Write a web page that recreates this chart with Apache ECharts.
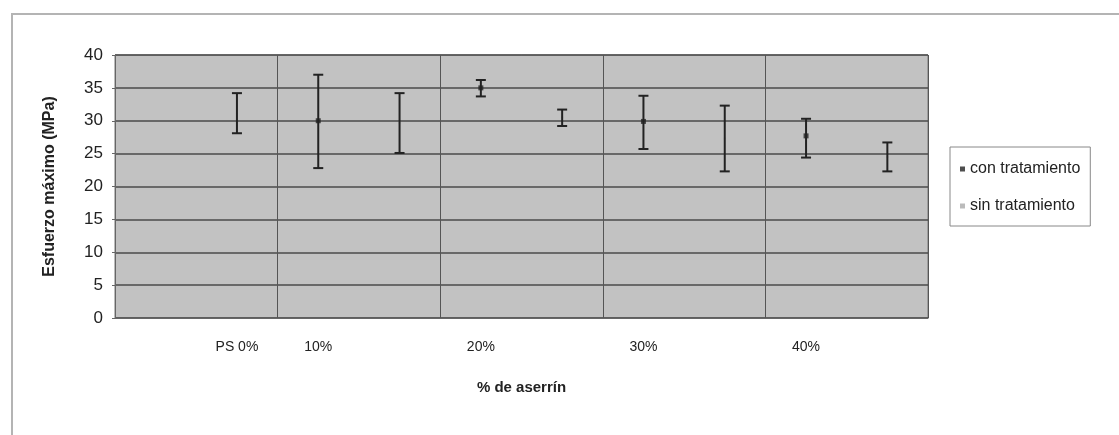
<!DOCTYPE html>
<html>
<head>
<meta charset="utf-8">
<script src="https://cdn.jsdelivr.net/npm/echarts@6/dist/echarts.min.js"></script>
<style>
  html, body { margin: 0; padding: 0; background: #fff; }
  #chart { width: 1119px; height: 435px; }
</style>
</head>
<body>
<div id="chart"></div>
<script>
// categorias del eje x (dos posiciones por grupo: con / sin tratamiento)
const categories = ["", "PS 0%", "10%", "", "20%", "", "30%", "", "40%", ""];

// con tratamiento
const conMean = [null, null, 30.0, null, 35.0, null, 29.9, null, 27.7, null];
const conLow = [null, null, 22.8, null, 33.7, null, 25.7, null, 24.4, null];
const conHigh = [null, null, 37.0, null, 36.2, null, 33.8, null, 30.3, null];

// sin tratamiento
const sinMean = [null, 31.1, null, 29.7, null, 30.5, null, 27.3, null, 24.5];
const sinLow = [null, 28.1, null, 25.1, null, 29.2, null, 22.3, null, 22.3];
const sinHigh = [null, 34.2, null, 34.2, null, 31.7, null, 32.3, null, 26.7];

const yTicks = [0, 5, 10, 15, 20, 25, 30, 35, 40];

const font = "Liberation Sans, Arial, sans-serif";

// arma los datos de la barra de error [indice, bajo, alto]
function errorData(low, high) {
  let out = [];
  for (let i = 0; i < categories.length; i++) {
    if (low[i] != null) out.push([i, low[i], high[i]]);
  }
  return out;
}

function meanData(mean) {
  let out = [];
  for (let i = 0; i < categories.length; i++) {
    if (mean[i] != null) out.push([i, mean[i]]);
  }
  return out;
}

//dibuja una barra de error
function renderError(params, api) {
  const x = api.value(0);
  const top = api.coord([x, api.value(2)]);
  const bottom = api.coord([x, api.value(1)]);
  const half = 5;
  const style = { stroke: "#222", lineWidth: 2 };
  return {
    type: "group",
    children: [
      { type: "line", shape: { x1: top[0], y1: top[1], x2: bottom[0], y2: bottom[1] }, style: style },
      { type: "line", shape: { x1: top[0] - half, y1: top[1], x2: top[0] + half, y2: top[1] }, style: style },
      { type: "line", shape: { x1: bottom[0] - half, y1: bottom[1], x2: bottom[0] + half, y2: bottom[1] }, style: style }
    ]
  };
}

// lineas verticales solo cada dos categorias
function everyOther(index) {
  return index % 2 === 0;
}

const myChart = echarts.init(document.getElementById("chart"));
const option = {
  animation: false,
  backgroundColor: "#fff",
  graphic: [{
    type: "rect",
    shape: { x: 12, y: 14, width: 1200, height: 500 },
    style: { fill: "none", stroke: "#b4b4b4", lineWidth: 2 },
    silent: true
  }],
  grid: {
    left: 115,
    right: 191,
    top: 55,
    bottom: 117,
    show: true,
    backgroundColor: "#c2c2c2",
    borderColor: "#777",
    borderWidth: 1
  },
  legend: {
    orient: "vertical",
    left: 950,
    top: 147,
    padding: [14, 10, 12, 10],
    itemGap: 21,
    itemWidth: 5,
    itemHeight: 5,
    borderColor: "#888",
    borderWidth: 1,
    backgroundColor: "#fff",
    textStyle: { fontFamily: font, fontSize: 16, color: "#222" },
    data: [
      { name: "con tratamiento", icon: "rect" },
      { name: "sin tratamiento", icon: "rect" }
    ]
  },
  xAxis: {
    type: "category",
    data: categories,
    boundaryGap: true,
    name: "% de aserrín",
    nameLocation: "middle",
    nameGap: 62,
    nameTextStyle: { fontFamily: font, fontSize: 15, fontWeight: "bold", color: "#222" },
    axisLine: { lineStyle: { color: "#666" } },
    axisTick: { interval: everyOther, length: 5, lineStyle: { color: "#666" } },
    axisLabel: { interval: 0, margin: 22, fontFamily: font, fontSize: 14, color: "#222" },
    splitLine: { show: true, interval: everyOther, lineStyle: { color: "#555", width: 1 } }
  },
  yAxis: {
    type: "value",
    min: 0,
    max: 40,
    interval: 5,
    name: "Esfuerzo máximo (MPa)",
    nameLocation: "middle",
    nameGap: 57,
    nameTextStyle: { fontFamily: font, fontSize: 16, fontWeight: "bold", color: "#222" },
    axisLine: { show: true, lineStyle: { color: "#666" } },
    axisTick: { show: true, length: 3, lineStyle: { color: "#666" } },
    axisLabel: {
      margin: 12,
      fontFamily: font,
      fontSize: 17,
      color: "#222",
      formatter: function (v) { return yTicks.indexOf(v) >= 0 ? String(v) : ""; }
    },
    splitLine: { lineStyle: { color: "#4a4a4a", width: 1.5 } }
  },
  series: [
    {
      name: "con tratamiento",
      type: "scatter",
      symbol: "rect",
      symbolSize: 5,
      itemStyle: { color: "#222" },
      data: meanData(conMean),
      z: 3
    },
    {
      name: "sin tratamiento",
      type: "scatter",
      symbol: "rect",
      symbolSize: 2,
      itemStyle: { color: "#aaa" },
      data: meanData(sinMean),
      z: 3
    },
    {
      name: "error con",
      type: "custom",
      renderItem: renderError,
      data: errorData(conLow, conHigh),
      encode: { x: 0, y: [1, 2] },
      z: 4
    },
    {
      name: "error sin",
      type: "custom",
      renderItem: renderError,
      data: errorData(sinLow, sinHigh),
      encode: { x: 0, y: [1, 2] },
      z: 4
    }
  ]
};
myChart.setOption(option);
</script>
</body>
</html>
